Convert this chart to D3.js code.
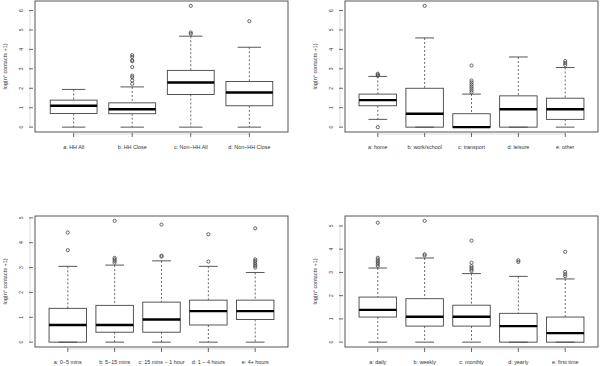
<!DOCTYPE html>
<html>
<head>
<meta charset="utf-8">
<script src="https://cdn.jsdelivr.net/npm/d3@7"></script>
<style>
  body { margin: 0; background: #fff; }
  text { font-family: "Liberation Sans", Arial, sans-serif; fill: #333; }
</style>
</head>
<body>
<svg></svg>
<script>
//Set Dimensions of svg
var width = 600;
var height = 366;
var svg = d3.select('svg')
            .attr('width', width)
            .attr('height', height);

// ---- data: five-number summaries + outliers ----
// panel A: household
var catsA = ['a: HH All', 'b: HH Close', 'c: Non\u2212HH All', 'd: Non\u2212HH Close'];
var loA  = [0, 0, 0, 0];
var q1A  = [0.70, 0.69, 1.68, 1.10];
var medA = [1.10, 0.92, 2.30, 1.78];
var q3A  = [1.39, 1.25, 2.92, 2.35];
var hiA  = [1.94, 2.07, 4.68, 4.11];
var outA = [[], [2.23, 2.40, 2.57, 2.65, 3.09, 3.39, 3.44, 3.61, 3.70], [4.80, 4.87, 6.24], [5.45]];

// panel B: location
var catsB = ['a: home', 'b: work/school', 'c: transport', 'd: leisure', 'e: other'];
var loB  = [0.40, 0, 0, 0, 0];
var q1B  = [1.10, 0, 0, 0, 0.40];
var medB = [1.39, 0.69, 0, 0.92, 0.92];
var q3B  = [1.70, 2.00, 0.69, 1.61, 1.49];
var hiB  = [2.61, 4.59, 1.70, 3.61, 3.07];
var outB = [[0, 2.64, 2.70, 2.75], [6.24], [1.80, 1.90, 2.00, 2.10, 2.20, 2.30, 2.40, 3.17], [], [3.20, 3.30, 3.40]];

// panel C: duration
var catsC = ['a: 0\u22125 mins', 'b: 5\u221215 mins', 'c: 15 mins \u2212 1 hour', 'd: 1 \u2212 4 hours', 'e: 4+ hours'];
var loC  = [0, 0, 0, 0, 0];
var q1C  = [0, 0.40, 0.40, 0.69, 0.91];
var medC = [0.69, 0.69, 0.91, 1.25, 1.25];
var q3C  = [1.36, 1.48, 1.61, 1.69, 1.69];
var hiC  = [3.05, 3.10, 3.27, 3.05, 2.80];
var outC = [[3.70, 4.41], [3.20, 3.27, 3.33, 3.39, 4.88], [3.44, 3.48, 4.73], [3.24, 4.34], [3.00, 3.07, 3.13, 3.20, 3.27, 3.33, 4.58]];

// panel D: frequency
var catsD = ['a: daily', 'b: weekly', 'c: monthly', 'd: yearly', 'e: first time'];
var loD  = [0, 0, 0, 0, 0];
var q1D  = [1.08, 0.69, 0.69, 0, 0];
var medD = [1.39, 1.09, 1.09, 0.69, 0.39];
var q3D  = [1.94, 1.87, 1.59, 1.24, 1.08];
var hiD  = [3.19, 3.62, 2.95, 2.83, 2.72];
var outD = [[3.28, 3.35, 3.42, 3.49, 3.56, 3.63, 5.14], [3.73, 3.78, 5.22], [3.06, 3.13, 3.20, 3.27, 3.42, 4.37], [3.45, 3.52], [2.84, 2.92, 3.02, 3.89]];

// tick labels
var ticksTop = [0, 1, 2, 3, 4, 5, 6];
var ticksBottom = [0, 1, 2, 3, 4, 5];
var yTitle = 'log(n\u00b0 contacts +1)';

// ---- panels ----
var panels = [
  {cats: catsA, lo: loA, q1: q1A, med: medA, q3: q3A, hi: hiA, out: outA, ticks: ticksTop,    x0: 35,  y0: 1},
  {cats: catsB, lo: loB, q1: q1B, med: medB, q3: q3B, hi: hiB, out: outB, ticks: ticksTop,    x0: 345, y0: 1},
  {cats: catsC, lo: loC, q1: q1C, med: medC, q3: q3C, hi: hiC, out: outC, ticks: ticksBottom, x0: 35,  y0: 216},
  {cats: catsD, lo: loD, q1: q1D, med: medD, q3: q3D, hi: hiD, out: outD, ticks: ticksBottom, x0: 345, y0: 216}
];
var pw = 253, ph = 131;
var lineCol = '#444';

panels.forEach(function(p) {
  var n = p.cats.length;
  var g = svg.append('g').attr('transform', 'translate(' + p.x0 + ',' + p.y0 + ')');

  // R-like limits: data range stretched by 4%
  var all = p.lo.concat(p.hi, d3.merge(p.out));
  var ext = d3.extent(all);
  var pad = (ext[1] - ext[0]) * 0.04;
  var y = d3.scaleLinear().domain([ext[0] - pad, ext[1] + pad]).range([ph, 0]);
  var x = d3.scaleLinear().domain([0.5 - 0.04 * n, n + 0.5 + 0.04 * n]).range([0, pw]);
  var bw = (x(1) - x(0)) * 0.8;

  var idx = d3.range(n);
  var box = g.selectAll('g.box').data(idx).enter().append('g').attr('class', 'box');

  // whiskers (dashed)
  box.append('line')
     .attr('x1', i => x(i + 1)).attr('x2', i => x(i + 1))
     .attr('y1', i => y(p.hi[i])).attr('y2', i => y(p.q3[i]))
     .attr('stroke', lineCol).attr('stroke-width', 0.8).attr('stroke-dasharray', '2,2');
  box.append('line')
     .attr('x1', i => x(i + 1)).attr('x2', i => x(i + 1))
     .attr('y1', i => y(p.q1[i])).attr('y2', i => y(p.lo[i]))
     .attr('stroke', lineCol).attr('stroke-width', 0.8).attr('stroke-dasharray', '2,2');
  // staples
  [p.hi, p.lo].forEach(function(arr) {
    box.append('line')
       .attr('x1', i => x(i + 1) - bw / 4).attr('x2', i => x(i + 1) + bw / 4)
       .attr('y1', i => y(arr[i])).attr('y2', i => y(arr[i]))
       .attr('stroke', lineCol).attr('stroke-width', 0.9);
  });
  // box
  box.append('rect')
     .attr('x', i => x(i + 1) - bw / 2).attr('width', bw)
     .attr('y', i => y(p.q3[i])).attr('height', i => y(p.q1[i]) - y(p.q3[i]))
     .attr('fill', 'none').attr('stroke', lineCol).attr('stroke-width', 0.9);
  // median
  box.append('line')
     .attr('x1', i => x(i + 1) - bw / 2).attr('x2', i => x(i + 1) + bw / 2)
     .attr('y1', i => y(p.med[i])).attr('y2', i => y(p.med[i]))
     .attr('stroke', '#000').attr('stroke-width', 2.4);
  // outliers
  box.each(function(i) {
    d3.select(this).selectAll('circle').data(p.out[i]).enter().append('circle')
      .attr('cx', x(i + 1)).attr('cy', d => y(d)).attr('r', 1.6)
      .attr('fill', 'none').attr('stroke', lineCol).attr('stroke-width', 0.8);
  });

  // frame
  g.append('rect').attr('width', pw).attr('height', ph)
   .attr('fill', 'none').attr('stroke', lineCol).attr('stroke-width', 0.9);

  // y axis: ticks detached from frame, rotated labels
  var ya = g.append('g').attr('class', 'yaxis');
  ya.append('line').attr('x1', -5).attr('x2', -5)
    .attr('y1', y(d3.min(p.ticks))).attr('y2', y(d3.max(p.ticks)))
    .attr('stroke', '#bbb').attr('stroke-width', 0.5);
  ya.selectAll('line.t').data(p.ticks).enter().append('line').attr('class', 't')
    .attr('x1', -6).attr('x2', -2).attr('y1', d => y(d)).attr('y2', d => y(d))
    .attr('stroke', lineCol).attr('stroke-width', 0.8);
  ya.selectAll('text').data(p.ticks).enter().append('text')
    .attr('transform', d => 'translate(-12,' + y(d) + ') rotate(-90)')
    .attr('text-anchor', 'middle').attr('font-size', 5).text(d => d);
  g.append('text')
   .attr('transform', 'translate(-28,' + ph / 2 + ') rotate(-90)')
   .attr('text-anchor', 'middle').attr('font-size', 5.5).text(yTitle);

  // x axis
  var xa = g.append('g').attr('transform', 'translate(0,' + ph + ')');
  xa.append('line').attr('x1', x(1)).attr('x2', x(n)).attr('y1', 2).attr('y2', 2)
    .attr('stroke', '#bbb').attr('stroke-width', 0.5);
  xa.selectAll('line.t').data(idx).enter().append('line').attr('class', 't')
    .attr('x1', i => x(i + 1)).attr('x2', i => x(i + 1)).attr('y1', 1).attr('y2', 5)
    .attr('stroke', lineCol).attr('stroke-width', 0.8);
  xa.selectAll('text').data(idx).enter().append('text')
    .attr('x', i => x(i + 1)).attr('y', 17)
    .attr('text-anchor', 'middle').attr('font-size', 5.4).text(i => p.cats[i]);
});
</script>
</body>
</html>
